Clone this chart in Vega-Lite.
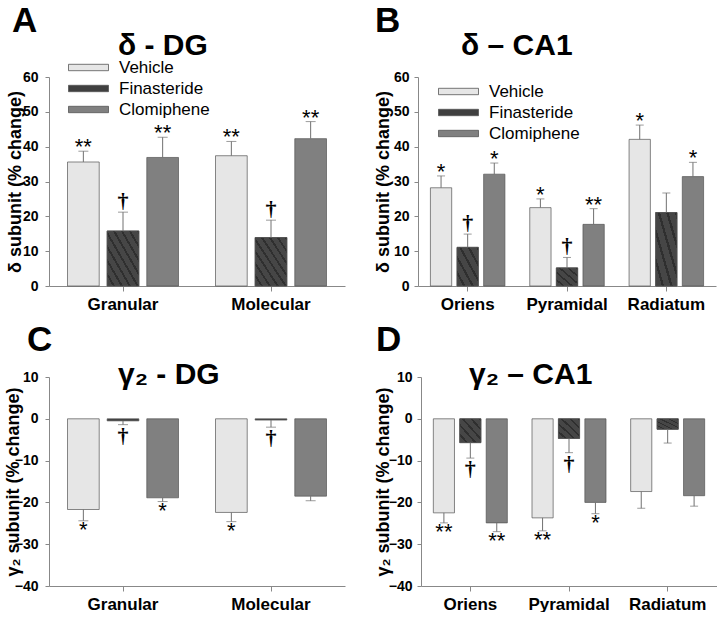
{
  "$schema": "https://vega.github.io/schema/vega-lite/v6.json",
  "padding": {"left": 3, "top": 4, "right": 0, "bottom": 0},
  "background": "white",
  "config": {
    "view": {"stroke": null},
    "axis": {"domainColor": "#888", "tickColor": "#888", "labelFont": "Liberation Sans", "labelFontWeight": "bold", "labelColor": "#000", "titleFont": "Liberation Sans", "titleFontWeight": "bold", "titleColor": "#000", "grid": false},
    "title": {"font": "Liberation Sans", "fontWeight": "bold", "color": "#000"},
    "legend": {"labelFont": "Liberation Sans", "labelFontSize": 17, "labelColor": "#000"}
  },
  "datasets": {
    "A": [
      {"group": "Granular", "treatment": "Vehicle", "value": 35.6, "err": 38.7, "label": "**"},
      {"group": "Granular", "treatment": "Finasteride", "value": 15.8, "err": 21.2, "label": "†"},
      {"group": "Granular", "treatment": "Clomiphene", "value": 36.9, "err": 42.7, "label": "**"},
      {"group": "Molecular", "treatment": "Vehicle", "value": 37.4, "err": 41.5, "label": "**"},
      {"group": "Molecular", "treatment": "Finasteride", "value": 13.9, "err": 18.9, "label": "†"},
      {"group": "Molecular", "treatment": "Clomiphene", "value": 42.3, "err": 47.2, "label": "**"}
    ],
    "B": [
      {"group": "Oriens", "treatment": "Vehicle", "value": 28.2, "err": 31.6, "label": "*"},
      {"group": "Oriens", "treatment": "Finasteride", "value": 11.1, "err": 14.9, "label": "†"},
      {"group": "Oriens", "treatment": "Clomiphene", "value": 32.1, "err": 35.3, "label": "*"},
      {"group": "Pyramidal", "treatment": "Vehicle", "value": 22.5, "err": 25.0, "label": "*"},
      {"group": "Pyramidal", "treatment": "Finasteride", "value": 5.2, "err": 8.2, "label": "†"},
      {"group": "Pyramidal", "treatment": "Clomiphene", "value": 17.7, "err": 22.2, "label": "**"},
      {"group": "Radiatum", "treatment": "Vehicle", "value": 42.1, "err": 46.2, "label": "*"},
      {"group": "Radiatum", "treatment": "Finasteride", "value": 21.1, "err": 26.7, "label": ""},
      {"group": "Radiatum", "treatment": "Clomiphene", "value": 31.4, "err": 35.5, "label": "*"}
    ],
    "C": [
      {"group": "Granular", "treatment": "Vehicle", "value": -21.7, "err": -24.4, "label": "*"},
      {"group": "Granular", "treatment": "Finasteride", "value": -0.5, "err": -1.4, "label": "†"},
      {"group": "Granular", "treatment": "Clomiphene", "value": -18.9, "err": -19.8, "label": "*"},
      {"group": "Molecular", "treatment": "Vehicle", "value": -22.4, "err": -24.6, "label": "*"},
      {"group": "Molecular", "treatment": "Finasteride", "value": -0.3, "err": -2.0, "label": "†"},
      {"group": "Molecular", "treatment": "Clomiphene", "value": -18.5, "err": -19.6, "label": ""}
    ],
    "D": [
      {"group": "Oriens", "treatment": "Vehicle", "value": -22.5, "err": -24.9, "label": "**"},
      {"group": "Oriens", "treatment": "Finasteride", "value": -5.7, "err": -9.4, "label": "†"},
      {"group": "Oriens", "treatment": "Clomiphene", "value": -24.9, "err": -27.0, "label": "**"},
      {"group": "Pyramidal", "treatment": "Vehicle", "value": -23.7, "err": -26.8, "label": "**"},
      {"group": "Pyramidal", "treatment": "Finasteride", "value": -4.7, "err": -8.1, "label": "†"},
      {"group": "Pyramidal", "treatment": "Clomiphene", "value": -20.0, "err": -22.7, "label": "*"},
      {"group": "Radiatum", "treatment": "Vehicle", "value": -17.4, "err": -21.4, "label": ""},
      {"group": "Radiatum", "treatment": "Finasteride", "value": -2.5, "err": -5.8, "label": ""},
      {"group": "Radiatum", "treatment": "Clomiphene", "value": -18.4, "err": -20.9, "label": ""}
    ]
  },
  "resolve": {"scale": {"color": "independent", "xOffset": "independent"}},
  "spacing": 11,
  "vconcat": [
    {
      "hconcat": [
        {
          "title": {"text": "A", "anchor": "start", "fontSize": 35, "dx": 6, "offset": -8},
          "vconcat": [
            {
              "width": 296, "height": 209,
              "data": {"name": "A"},
              "title": {"text": "δ - DG", "anchor": "start", "frame": "group", "dx": 69, "fontSize": 30, "offset": 9},
              "encoding": {
                "x": {"field": "group", "type": "nominal", "sort": null, "scale": {"paddingInner": 0.25, "paddingOuter": 0.125}, "axis": {"title": null, "labelAngle": 0, "labelFontSize": 17, "tickSize": 5, "labelPadding": 5}},
                "xOffset": {"field": "treatment", "type": "nominal", "sort": ["Vehicle", "Finasteride", "Clomiphene"], "scale": {"paddingInner": 0.2, "paddingOuter": 0}}
              },
              "layer": [
                {"mark": {"type": "bar", "stroke": "#555", "strokeWidth": 0.7},
                 "encoding": {
                   "y": {"field": "value", "type": "quantitative", "scale": {"domain": [0, 60]}, "axis": {"values": [0, 10, 20, 30, 40, 50, 60], "title": "δ subunit (% change)", "labelFontSize": 14, "titleFontSize": 18, "tickSize": 4, "labelPadding": 7, "titleX": -25, "titleBaseline": "bottom"}},
                   "color": {"field": "treatment", "type": "nominal", "scale": {"domain": ["Vehicle", "Finasteride", "Clomiphene"], "range": ["#e6e6e6", "#404040", "#808080"]},
                     "legend": {"orient": "none", "legendX": 19, "legendY": -18, "title": null, "symbolType": "M-1,-0.16L1,-0.16L1,0.16L-1,0.16Z", "symbolSize": 1600, "clipHeight": 17, "rowPadding": 3, "labelOffset": 10, "symbolStrokeColor": "#555", "symbolStrokeWidth": 0.8}}
                 }},
                {"transform": [{"filter": "datum.treatment == 'Finasteride'"}],
                 "mark": {"type": "bar", "stroke": "#555", "strokeWidth": 0.7, "fill": {"gradient": "linear", "x1": 0, "y1": 1, "x2": 1, "y2": 0, "stops": [
                   {"offset": 0, "color": "#464646"}, {"offset": 0.09, "color": "#464646"}, {"offset": 0.09, "color": "#2f2f2f"}, {"offset": 0.125, "color": "#2f2f2f"},
                   {"offset": 0.125, "color": "#464646"}, {"offset": 0.215, "color": "#464646"}, {"offset": 0.215, "color": "#2f2f2f"}, {"offset": 0.25, "color": "#2f2f2f"},
                   {"offset": 0.25, "color": "#464646"}, {"offset": 0.34, "color": "#464646"}, {"offset": 0.34, "color": "#2f2f2f"}, {"offset": 0.375, "color": "#2f2f2f"},
                   {"offset": 0.375, "color": "#464646"}, {"offset": 0.465, "color": "#464646"}, {"offset": 0.465, "color": "#2f2f2f"}, {"offset": 0.5, "color": "#2f2f2f"},
                   {"offset": 0.5, "color": "#464646"}, {"offset": 0.59, "color": "#464646"}, {"offset": 0.59, "color": "#2f2f2f"}, {"offset": 0.625, "color": "#2f2f2f"},
                   {"offset": 0.625, "color": "#464646"}, {"offset": 0.715, "color": "#464646"}, {"offset": 0.715, "color": "#2f2f2f"}, {"offset": 0.75, "color": "#2f2f2f"},
                   {"offset": 0.75, "color": "#464646"}, {"offset": 0.84, "color": "#464646"}, {"offset": 0.84, "color": "#2f2f2f"}, {"offset": 0.875, "color": "#2f2f2f"},
                   {"offset": 0.875, "color": "#464646"}, {"offset": 0.965, "color": "#464646"}, {"offset": 0.965, "color": "#2f2f2f"}, {"offset": 1, "color": "#2f2f2f"}]}},
                 "encoding": {"y": {"field": "value", "type": "quantitative", "scale": {"domain": [0, 60]}, "axis": {"values": [0, 10, 20, 30, 40, 50, 60], "title": "δ subunit (% change)", "labelFontSize": 14, "titleFontSize": 18, "tickSize": 4, "labelPadding": 7, "titleX": -25, "titleBaseline": "bottom"}}}},
                {"mark": {"type": "rule", "color": "#707070", "strokeWidth": 1}, "encoding": {"y": {"field": "value", "type": "quantitative", "scale": {"domain": [0, 60]}, "axis": {"values": [0, 10, 20, 30, 40, 50, 60], "title": "δ subunit (% change)", "labelFontSize": 14, "titleFontSize": 18, "tickSize": 4, "labelPadding": 7, "titleX": -25, "titleBaseline": "bottom"}}, "y2": {"field": "err"}}},
                {"mark": {"type": "tick", "color": "#707070", "size": 10, "thickness": 1}, "encoding": {"y": {"field": "err", "type": "quantitative", "scale": {"domain": [0, 60]}, "axis": {"values": [0, 10, 20, 30, 40, 50, 60], "title": "δ subunit (% change)", "labelFontSize": 14, "titleFontSize": 18, "tickSize": 4, "labelPadding": 7, "titleX": -25, "titleBaseline": "bottom"}}}},
                {"transform": [{"filter": "datum.label == '*' || datum.label == '**'"}], "mark": {"type": "text", "fontSize": 22, "baseline": "alphabetic", "dy": 3, "font": "Liberation Sans", "fill": "#000"}, "encoding": {"y": {"field": "err", "type": "quantitative", "scale": {"domain": [0, 60]}, "axis": {"values": [0, 10, 20, 30, 40, 50, 60], "title": "δ subunit (% change)", "labelFontSize": 14, "titleFontSize": 18, "tickSize": 4, "labelPadding": 7, "titleX": -25, "titleBaseline": "bottom"}}, "text": {"field": "label"}}},
                {"transform": [{"filter": "datum.label == '†'"}], "mark": {"type": "text", "fontSize": 22, "fontWeight": "bold", "baseline": "alphabetic", "dy": -4, "font": "Liberation Serif", "fill": "#000"}, "encoding": {"y": {"field": "err", "type": "quantitative", "scale": {"domain": [0, 60]}, "axis": {"values": [0, 10, 20, 30, 40, 50, 60], "title": "δ subunit (% change)", "labelFontSize": 14, "titleFontSize": 18, "tickSize": 4, "labelPadding": 7, "titleX": -25, "titleBaseline": "bottom"}}, "text": {"field": "label"}}}
              ]
            }
          ]
        },
        {
          "title": {"text": "B", "anchor": "start", "fontSize": 35, "dx": 1, "offset": -8},
          "vconcat": [
            {
              "width": 298, "height": 209,
              "data": {"name": "B"},
              "title": {"text": "δ – CA1", "anchor": "start", "frame": "group", "dx": 43, "fontSize": 30, "offset": 9},
              "encoding": {
                "x": {"field": "group", "type": "nominal", "sort": null, "scale": {"paddingInner": 0.25, "paddingOuter": 0.125}, "axis": {"title": null, "labelAngle": 0, "labelFontSize": 17, "tickSize": 5, "labelPadding": 5}},
                "xOffset": {"field": "treatment", "type": "nominal", "sort": ["Vehicle", "Finasteride", "Clomiphene"], "scale": {"paddingInner": 0.2, "paddingOuter": 0}}
              },
              "layer": [
                {"mark": {"type": "bar", "stroke": "#555", "strokeWidth": 0.7},
                 "encoding": {
                   "y": {"field": "value", "type": "quantitative", "scale": {"domain": [0, 60]}, "axis": {"values": [0, 10, 20, 30, 40, 50, 60], "title": "δ subunit (% change)", "labelFontSize": 14, "titleFontSize": 18, "tickSize": 4, "labelPadding": 5, "titleX": -26, "titleBaseline": "bottom"}},
                   "color": {"field": "treatment", "type": "nominal", "scale": {"domain": ["Vehicle", "Finasteride", "Clomiphene"], "range": ["#e6e6e6", "#404040", "#808080"]},
                     "legend": {"orient": "none", "legendX": 20, "legendY": 6, "title": null, "symbolType": "M-1,-0.16L1,-0.16L1,0.16L-1,0.16Z", "symbolSize": 1600, "clipHeight": 17, "rowPadding": 3, "labelOffset": 10, "symbolStrokeColor": "#555", "symbolStrokeWidth": 0.8}}
                 }},
                {"transform": [{"filter": "datum.treatment == 'Finasteride'"}],
                 "mark": {"type": "bar", "stroke": "#555", "strokeWidth": 0.7, "fill": {"gradient": "linear", "x1": 0, "y1": 1, "x2": 1, "y2": 0, "stops": [
                   {"offset": 0, "color": "#464646"}, {"offset": 0.145, "color": "#464646"}, {"offset": 0.145, "color": "#2f2f2f"}, {"offset": 0.2, "color": "#2f2f2f"},
                   {"offset": 0.2, "color": "#464646"}, {"offset": 0.345, "color": "#464646"}, {"offset": 0.345, "color": "#2f2f2f"}, {"offset": 0.4, "color": "#2f2f2f"},
                   {"offset": 0.4, "color": "#464646"}, {"offset": 0.545, "color": "#464646"}, {"offset": 0.545, "color": "#2f2f2f"}, {"offset": 0.6, "color": "#2f2f2f"},
                   {"offset": 0.6, "color": "#464646"}, {"offset": 0.745, "color": "#464646"}, {"offset": 0.745, "color": "#2f2f2f"}, {"offset": 0.8, "color": "#2f2f2f"},
                   {"offset": 0.8, "color": "#464646"}, {"offset": 0.945, "color": "#464646"}, {"offset": 0.945, "color": "#2f2f2f"}, {"offset": 1, "color": "#2f2f2f"}]}},
                 "encoding": {"y": {"field": "value", "type": "quantitative", "scale": {"domain": [0, 60]}, "axis": {"values": [0, 10, 20, 30, 40, 50, 60], "title": "δ subunit (% change)", "labelFontSize": 14, "titleFontSize": 18, "tickSize": 4, "labelPadding": 5, "titleX": -26, "titleBaseline": "bottom"}}}},
                {"mark": {"type": "rule", "color": "#707070", "strokeWidth": 1}, "encoding": {"y": {"field": "value", "type": "quantitative", "scale": {"domain": [0, 60]}, "axis": {"values": [0, 10, 20, 30, 40, 50, 60], "title": "δ subunit (% change)", "labelFontSize": 14, "titleFontSize": 18, "tickSize": 4, "labelPadding": 5, "titleX": -26, "titleBaseline": "bottom"}}, "y2": {"field": "err"}}},
                {"mark": {"type": "tick", "color": "#707070", "size": 8, "thickness": 1}, "encoding": {"y": {"field": "err", "type": "quantitative", "scale": {"domain": [0, 60]}, "axis": {"values": [0, 10, 20, 30, 40, 50, 60], "title": "δ subunit (% change)", "labelFontSize": 14, "titleFontSize": 18, "tickSize": 4, "labelPadding": 5, "titleX": -26, "titleBaseline": "bottom"}}}},
                {"transform": [{"filter": "datum.label == '*' || datum.label == '**'"}], "mark": {"type": "text", "fontSize": 22, "baseline": "alphabetic", "dy": 3, "font": "Liberation Sans", "fill": "#000"}, "encoding": {"y": {"field": "err", "type": "quantitative", "scale": {"domain": [0, 60]}, "axis": {"values": [0, 10, 20, 30, 40, 50, 60], "title": "δ subunit (% change)", "labelFontSize": 14, "titleFontSize": 18, "tickSize": 4, "labelPadding": 5, "titleX": -26, "titleBaseline": "bottom"}}, "text": {"field": "label"}}},
                {"transform": [{"filter": "datum.label == '†'"}], "mark": {"type": "text", "fontSize": 22, "fontWeight": "bold", "baseline": "alphabetic", "dy": -4, "font": "Liberation Serif", "fill": "#000"}, "encoding": {"y": {"field": "err", "type": "quantitative", "scale": {"domain": [0, 60]}, "axis": {"values": [0, 10, 20, 30, 40, 50, 60], "title": "δ subunit (% change)", "labelFontSize": 14, "titleFontSize": 18, "tickSize": 4, "labelPadding": 5, "titleX": -26, "titleBaseline": "bottom"}}, "text": {"field": "label"}}}
              ]
            }
          ]
        }
      ],
      "spacing": 28,
      "resolve": {"scale": {"color": "independent", "xOffset": "independent"}}
    },
    {
      "hconcat": [
        {
          "title": {"text": "C", "anchor": "start", "fontSize": 35, "dx": 23, "offset": 2},
          "vconcat": [
            {
              "width": 296, "height": 209,
              "data": {"name": "C"},
              "title": {"text": "γ₂ - DG", "anchor": "start", "frame": "group", "dx": 69, "fontSize": 30, "offset": -20},
              "encoding": {
                "x": {"field": "group", "type": "nominal", "sort": null, "scale": {"paddingInner": 0.25, "paddingOuter": 0.125}, "axis": {"title": null, "labelAngle": 0, "labelFontSize": 17, "tickSize": 5, "labelPadding": 5}},
                "xOffset": {"field": "treatment", "type": "nominal", "sort": ["Vehicle", "Finasteride", "Clomiphene"], "scale": {"paddingInner": 0.2, "paddingOuter": 0}}
              },
              "layer": [
                {"mark": {"type": "rule", "color": "#888", "strokeWidth": 1}, "encoding": {"y": {"datum": 0, "type": "quantitative", "scale": {"domain": [-40, 10]}, "axis": {"values": [-40, -30, -20, -10, 0, 10], "title": "γ₂ subunit (% change)", "labelFontSize": 14, "titleFontSize": 18, "tickSize": 4, "labelPadding": 7, "titleX": -27, "titleBaseline": "bottom"}}}},
                {"mark": {"type": "bar", "stroke": "#555", "strokeWidth": 0.7},
                 "encoding": {
                   "y": {"field": "value", "type": "quantitative", "scale": {"domain": [-40, 10]}, "axis": {"values": [-40, -30, -20, -10, 0, 10], "title": "γ₂ subunit (% change)", "labelFontSize": 14, "titleFontSize": 18, "tickSize": 4, "labelPadding": 7, "titleX": -27, "titleBaseline": "bottom"}},
                   "color": {"field": "treatment", "type": "nominal", "scale": {"domain": ["Vehicle", "Finasteride", "Clomiphene"], "range": ["#e6e6e6", "#404040", "#808080"]}, "legend": null}
                 }},
                {"mark": {"type": "rule", "color": "#707070", "strokeWidth": 1}, "encoding": {"y": {"field": "value", "type": "quantitative", "scale": {"domain": [-40, 10]}, "axis": {"values": [-40, -30, -20, -10, 0, 10], "title": "γ₂ subunit (% change)", "labelFontSize": 14, "titleFontSize": 18, "tickSize": 4, "labelPadding": 7, "titleX": -27, "titleBaseline": "bottom"}}, "y2": {"field": "err"}}},
                {"mark": {"type": "tick", "color": "#707070", "size": 10, "thickness": 1}, "encoding": {"y": {"field": "err", "type": "quantitative", "scale": {"domain": [-40, 10]}, "axis": {"values": [-40, -30, -20, -10, 0, 10], "title": "γ₂ subunit (% change)", "labelFontSize": 14, "titleFontSize": 18, "tickSize": 4, "labelPadding": 7, "titleX": -27, "titleBaseline": "bottom"}}}},
                {"transform": [{"filter": "datum.label == '*' || datum.label == '**'"}], "mark": {"type": "text", "fontSize": 22, "baseline": "alphabetic", "dy": 16, "font": "Liberation Sans", "fill": "#000"}, "encoding": {"y": {"field": "err", "type": "quantitative", "scale": {"domain": [-40, 10]}, "axis": {"values": [-40, -30, -20, -10, 0, 10], "title": "γ₂ subunit (% change)", "labelFontSize": 14, "titleFontSize": 18, "tickSize": 4, "labelPadding": 7, "titleX": -27, "titleBaseline": "bottom"}}, "text": {"field": "label"}}},
                {"transform": [{"filter": "datum.label == '†'"}], "mark": {"type": "text", "fontSize": 22, "fontWeight": "bold", "baseline": "alphabetic", "dy": 18, "font": "Liberation Serif", "fill": "#000"}, "encoding": {"y": {"field": "err", "type": "quantitative", "scale": {"domain": [-40, 10]}, "axis": {"values": [-40, -30, -20, -10, 0, 10], "title": "γ₂ subunit (% change)", "labelFontSize": 14, "titleFontSize": 18, "tickSize": 4, "labelPadding": 7, "titleX": -27, "titleBaseline": "bottom"}}, "text": {"field": "label"}}}
              ]
            }
          ]
        },
        {
          "title": {"text": "D", "anchor": "start", "fontSize": 35, "dx": 2, "offset": 2},
          "vconcat": [
            {
              "width": 296, "height": 209,
              "data": {"name": "D"},
              "title": {"text": "γ₂ – CA1", "anchor": "start", "frame": "group", "dx": 48, "fontSize": 30, "offset": -20},
              "encoding": {
                "x": {"field": "group", "type": "nominal", "sort": null, "scale": {"paddingInner": 0.25, "paddingOuter": 0.125}, "axis": {"title": null, "labelAngle": 0, "labelFontSize": 17, "tickSize": 5, "labelPadding": 5}},
                "xOffset": {"field": "treatment", "type": "nominal", "sort": ["Vehicle", "Finasteride", "Clomiphene"], "scale": {"paddingInner": 0.2, "paddingOuter": 0}}
              },
              "layer": [
                {"mark": {"type": "rule", "color": "#888", "strokeWidth": 1}, "encoding": {"y": {"datum": 0, "type": "quantitative", "scale": {"domain": [-40, 10]}, "axis": {"values": [-40, -30, -20, -10, 0, 10], "title": "γ₂ subunit (% change)", "labelFontSize": 14, "titleFontSize": 18, "tickSize": 4, "labelPadding": 5, "titleX": -29, "titleBaseline": "bottom"}}}},
                {"mark": {"type": "bar", "stroke": "#555", "strokeWidth": 0.7},
                 "encoding": {
                   "y": {"field": "value", "type": "quantitative", "scale": {"domain": [-40, 10]}, "axis": {"values": [-40, -30, -20, -10, 0, 10], "title": "γ₂ subunit (% change)", "labelFontSize": 14, "titleFontSize": 18, "tickSize": 4, "labelPadding": 5, "titleX": -29, "titleBaseline": "bottom"}},
                   "color": {"field": "treatment", "type": "nominal", "scale": {"domain": ["Vehicle", "Finasteride", "Clomiphene"], "range": ["#e6e6e6", "#404040", "#808080"]}, "legend": null}
                 }},
                {"transform": [{"filter": "datum.treatment == 'Finasteride'"}],
                 "mark": {"type": "bar", "stroke": "#555", "strokeWidth": 0.7, "fill": {"gradient": "linear", "x1": 0, "y1": 1, "x2": 1, "y2": 0, "stops": [
                   {"offset": 0, "color": "#464646"}, {"offset": 0.145, "color": "#464646"}, {"offset": 0.145, "color": "#2f2f2f"}, {"offset": 0.2, "color": "#2f2f2f"},
                   {"offset": 0.2, "color": "#464646"}, {"offset": 0.345, "color": "#464646"}, {"offset": 0.345, "color": "#2f2f2f"}, {"offset": 0.4, "color": "#2f2f2f"},
                   {"offset": 0.4, "color": "#464646"}, {"offset": 0.545, "color": "#464646"}, {"offset": 0.545, "color": "#2f2f2f"}, {"offset": 0.6, "color": "#2f2f2f"},
                   {"offset": 0.6, "color": "#464646"}, {"offset": 0.745, "color": "#464646"}, {"offset": 0.745, "color": "#2f2f2f"}, {"offset": 0.8, "color": "#2f2f2f"},
                   {"offset": 0.8, "color": "#464646"}, {"offset": 0.945, "color": "#464646"}, {"offset": 0.945, "color": "#2f2f2f"}, {"offset": 1, "color": "#2f2f2f"}]}},
                 "encoding": {"y": {"field": "value", "type": "quantitative", "scale": {"domain": [-40, 10]}, "axis": {"values": [-40, -30, -20, -10, 0, 10], "title": "γ₂ subunit (% change)", "labelFontSize": 14, "titleFontSize": 18, "tickSize": 4, "labelPadding": 5, "titleX": -29, "titleBaseline": "bottom"}}}},
                {"mark": {"type": "rule", "color": "#707070", "strokeWidth": 1}, "encoding": {"y": {"field": "value", "type": "quantitative", "scale": {"domain": [-40, 10]}, "axis": {"values": [-40, -30, -20, -10, 0, 10], "title": "γ₂ subunit (% change)", "labelFontSize": 14, "titleFontSize": 18, "tickSize": 4, "labelPadding": 5, "titleX": -29, "titleBaseline": "bottom"}}, "y2": {"field": "err"}}},
                {"mark": {"type": "tick", "color": "#707070", "size": 8, "thickness": 1}, "encoding": {"y": {"field": "err", "type": "quantitative", "scale": {"domain": [-40, 10]}, "axis": {"values": [-40, -30, -20, -10, 0, 10], "title": "γ₂ subunit (% change)", "labelFontSize": 14, "titleFontSize": 18, "tickSize": 4, "labelPadding": 5, "titleX": -29, "titleBaseline": "bottom"}}}},
                {"transform": [{"filter": "datum.label == '*' || datum.label == '**'"}], "mark": {"type": "text", "fontSize": 22, "baseline": "alphabetic", "dy": 16, "font": "Liberation Sans", "fill": "#000"}, "encoding": {"y": {"field": "err", "type": "quantitative", "scale": {"domain": [-40, 10]}, "axis": {"values": [-40, -30, -20, -10, 0, 10], "title": "γ₂ subunit (% change)", "labelFontSize": 14, "titleFontSize": 18, "tickSize": 4, "labelPadding": 5, "titleX": -29, "titleBaseline": "bottom"}}, "text": {"field": "label"}}},
                {"transform": [{"filter": "datum.label == '†'"}], "mark": {"type": "text", "fontSize": 22, "fontWeight": "bold", "baseline": "alphabetic", "dy": 18, "font": "Liberation Serif", "fill": "#000"}, "encoding": {"y": {"field": "err", "type": "quantitative", "scale": {"domain": [-40, 10]}, "axis": {"values": [-40, -30, -20, -10, 0, 10], "title": "γ₂ subunit (% change)", "labelFontSize": 14, "titleFontSize": 18, "tickSize": 4, "labelPadding": 5, "titleX": -29, "titleBaseline": "bottom"}}, "text": {"field": "label"}}}
              ]
            }
          ]
        }
      ],
      "spacing": 28,
      "resolve": {"scale": {"color": "independent", "xOffset": "independent"}}
    }
  ]
}
